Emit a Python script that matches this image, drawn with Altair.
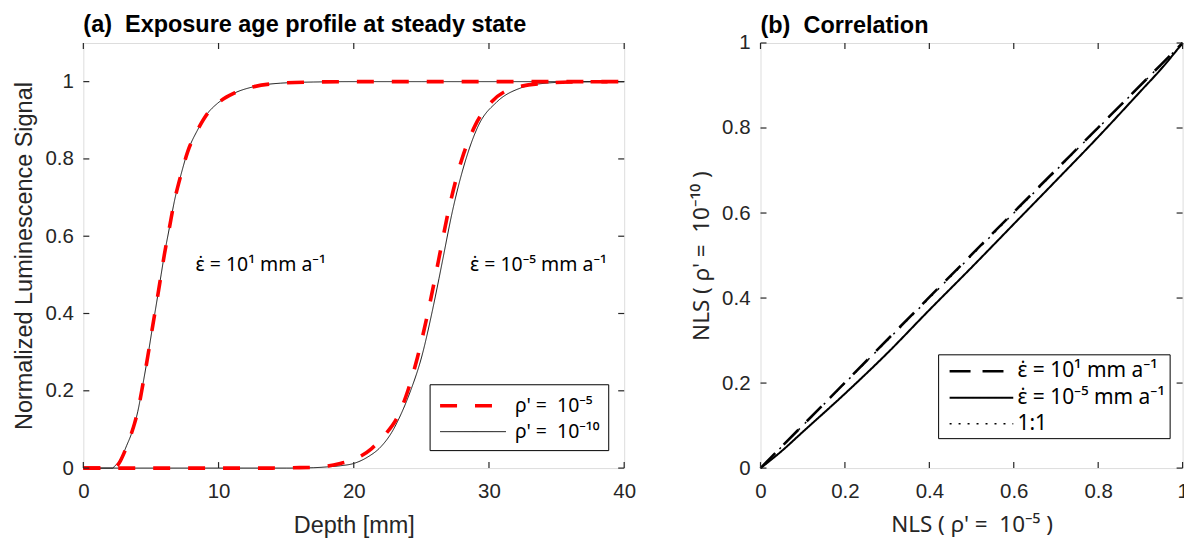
import altair as alt
import pandas as pd

FONT = "Liberation Sans"
SUPFONT = "Noto Sans"
AXC = "#262626"
NB = "\u00a0"

# ---------------- Panel (a): exposure age profiles ----------------
# eps = 10^1 mm/a, rho' = 1e-10 (thin black)
a1_blk_depth = [0, 1, 2.0, 2.19, 2.31, 2.6, 2.92, 3.2, 3.54, 3.8, 4.03, 4.4, 4.77, 5.14, 5.38, 5.75,
                5.99, 6.36, 6.73, 7.22, 7.72, 8.45, 9.19, 9.93, 11.15, 12.62, 14.59, 17, 20, 25, 30, 35, 40]
a1_blk_nls = [0, 0, 0, 0, 0.005, 0.015, 0.035, 0.058, 0.087, 0.115, 0.147, 0.216, 0.29, 0.37, 0.42, 0.5,
              0.552, 0.621, 0.69, 0.759, 0.819, 0.875, 0.918, 0.944, 0.97, 0.987, 0.996, 0.999, 1, 1, 1, 1, 1]
# eps = 10^1 mm/a, rho' = 1e-5 (red dashed)
a1_red_depth = [0, 1, 2.0, 2.3, 2.45, 2.7, 3.0, 3.25, 3.56, 3.8, 4.03, 4.4, 4.77, 5.14, 5.38, 5.75,
                5.99, 6.36, 6.73, 7.22, 7.72, 8.45, 9.19, 9.93, 11.15, 12.62, 14.59, 17, 20, 25, 30, 35, 40]
a1_red_nls = [0, 0, 0, 0, 0.004, 0.016, 0.038, 0.06, 0.09, 0.117, 0.148, 0.216, 0.29, 0.37, 0.42, 0.5,
              0.552, 0.621, 0.69, 0.759, 0.819, 0.875, 0.918, 0.944, 0.97, 0.987, 0.996, 0.999, 1, 1, 1, 1, 1]
# eps = 10^-5 mm/a, rho' = 1e-10 (thin black)
a2_blk_depth = [0, 10, 15, 17, 18, 19, 20, 21, 22, 22.8, 23.5, 24.2, 25.0, 25.8, 26.3, 26.6, 27.3,
                28.3, 29.2, 30.6, 32.3, 34.2, 36, 40]
a2_blk_nls = [0, 0, 0, 0.001, 0.003, 0.006, 0.012, 0.028, 0.055, 0.092, 0.14, 0.2, 0.285, 0.405, 0.49,
              0.543, 0.665, 0.8, 0.885, 0.948, 0.983, 0.996, 0.999, 1]
# eps = 10^-5 mm/a, rho' = 1e-5 (red dashed)
a2_red_depth = [0, 10, 14, 15.5, 17, 17.8, 19, 20, 21.3, 22.3, 23.2, 24.0, 24.7, 25.5, 26.0, 26.3, 27.0,
                28.0, 29.0, 30.2, 31.8, 34.2, 36, 40]
a2_red_nls = [0, 0, 0, 0.001, 0.002, 0.004, 0.012, 0.022, 0.05, 0.086, 0.13, 0.2, 0.285, 0.405, 0.49,
              0.543, 0.665, 0.8, 0.888, 0.948, 0.983, 0.996, 0.999, 1]

rho_labels = ["ρ' = " + NB + "10⁻⁵", "ρ' = " + NB + "10⁻¹⁰"]
a_x_ticks = [0, 10, 20, 30, 40]
a_y_ticks = [0, 0.2, 0.4, 0.6, 0.8, 1]
ann_x = [8.3, 28.6]
ann_y = [0.525, 0.525]
ann_text = ["ε̇ = 10¹ mm a⁻¹", "ε̇ = 10⁻⁵ mm a⁻¹"]

# ---------------- Panel (b): correlation ----------------
b_fast_x = [0, 0.2, 0.4, 0.6, 0.8, 1]
b_fast_y = [0, 0.201, 0.402, 0.602, 0.801, 1]
b_slow_x = [0, 0.05, 0.1, 0.2, 0.3, 0.4, 0.5, 0.6, 0.7, 0.8, 0.9, 0.95, 1]
b_slow_y = [0, 0.04, 0.085, 0.175, 0.27, 0.372, 0.472, 0.574, 0.676, 0.779, 0.886, 0.94, 1]
b_one_x = [0, 1]
b_one_y = [0, 1]
b_labels = ["ε̇ = 10¹ mm a⁻¹", "ε̇ = 10⁻⁵ mm a⁻¹", "1:1"]
b_ticks = [0, 0.2, 0.4, 0.6, 0.8, 1]

W1, W2, H = 542, 423, 426
TL = 6
SYMBOL_A = "M-1,0H5"       # long horizontal swatch, unit-scaled by Vega
SYMBOL_B = "M-0.5,0H5.3"

rows = []
for cid, rho, xs, ys in [("a1b", rho_labels[1], a1_blk_depth, a1_blk_nls),
                         ("a2b", rho_labels[1], a2_blk_depth, a2_blk_nls),
                         ("a1r", rho_labels[0], a1_red_depth, a1_red_nls),
                         ("a2r", rho_labels[0], a2_red_depth, a2_red_nls)]:
    for i, (x, y) in enumerate(zip(xs, ys)):
        rows.append({"curve": cid, "rho": rho, "x": x, "y": y, "o": i})
dfa = pd.DataFrame(rows)

rows = []
for lab, xs, ys in [(b_labels[1], b_slow_x, b_slow_y), (b_labels[0], b_fast_x, b_fast_y),
                    (b_labels[2], b_one_x, b_one_y)]:
    for i, (x, y) in enumerate(zip(xs, ys)):
        rows.append({"s": lab, "x": x, "y": y, "o": i})
dfb = pd.DataFrame(rows)


def ax(title, values, pad, tpad, tfont=FONT, tsize=23.5):
    return alt.Axis(title=title, values=values, format="~f", ticks=False, domain=False, grid=False,
                    labelFontSize=20.5, titleFontSize=tsize, labelColor=AXC, titleColor=AXC,
                    titleFontWeight="normal", labelPadding=pad, titlePadding=tpad,
                    labelFont=FONT, titleFont=tfont, labelFlush=False)


def tick_layers(xs_scale, ys_scale, xaxis, yaxis, xt, yt, w, h):
    dx = pd.DataFrame({"v": xt})
    dy = pd.DataFrame({"v": yt})
    X = alt.X("v:Q", scale=xs_scale, axis=xaxis)
    Y = alt.Y("v:Q", scale=ys_scale, axis=yaxis)
    rule = dict(color=AXC, strokeWidth=1.2)
    return [
        alt.Chart(dx).mark_rule(**rule).encode(x=X, y=alt.value(h), y2=alt.value(h - TL)),
        alt.Chart(dx).mark_rule(**rule).encode(x=X, y=alt.value(0), y2=alt.value(TL)),
        alt.Chart(dy).mark_rule(**rule).encode(y=Y, x=alt.value(0), x2=alt.value(TL)),
        alt.Chart(dy).mark_rule(**rule).encode(y=Y, x=alt.value(w), x2=alt.value(w - TL)),
    ]


# ---- panel (a)
xa_scale = alt.Scale(domain=[0, 40], nice=False, zero=False)
ya_scale = alt.Scale(domain=[0, 1.1], nice=False, zero=False)
xa_axis = ax("Depth [mm]", a_x_ticks, 13.5, 12)
ya_axis = ax("Normalized Luminescence Signal", a_y_ticks, 10, 8.5)

leg_a = alt.Legend(title=None, orient="none", legendX=347, legendY=342, fillColor="white",
                   strokeColor="black", padding=8.5, rowPadding=4.5, symbolType=SYMBOL_A,
                   symbolSize=484, labelFontSize=19.5, labelFont=SUPFONT, labelColor="black",
                   labelOffset=51, labelLimit=0, cornerRadius=0)

lines_a = alt.Chart(dfa).mark_line(interpolate="monotone", strokeCap="butt").encode(
    x=alt.X("x:Q", scale=xa_scale, axis=xa_axis),
    y=alt.Y("y:Q", scale=ya_scale, axis=ya_axis),
    detail="curve:N",
    order="o:Q",
    color=alt.Color("rho:N", scale=alt.Scale(domain=rho_labels, range=["#ff0000", "#000000"]), legend=leg_a),
    strokeDash=alt.StrokeDash("rho:N", scale=alt.Scale(domain=rho_labels, range=[[17, 18], [1, 0]]), legend=leg_a),
    strokeWidth=alt.StrokeWidth("rho:N", scale=alt.Scale(domain=rho_labels, range=[3.6, 0.9]), legend=leg_a),
)

ann = alt.Chart(pd.DataFrame({"x": ann_x, "y": ann_y, "t": ann_text})).mark_text(
    align="left", baseline="middle", fontSize=19.5, font=SUPFONT, color="black").encode(
    x=alt.X("x:Q", scale=xa_scale, axis=xa_axis),
    y=alt.Y("y:Q", scale=ya_scale, axis=ya_axis),
    text="t:N")

panel_a = alt.layer(lines_a, ann, *tick_layers(xa_scale, ya_scale, xa_axis, ya_axis,
                                                a_x_ticks, a_y_ticks, W1, H)).properties(
    width=W1, height=H,
    title=alt.TitleParams("(a)" + NB + " Exposure age profile at steady state", anchor="start", frame="group",
                          fontSize=23.5, font=FONT, fontWeight="bold", color="black", offset=6))

# ---- panel (b)
xb_scale = alt.Scale(domain=[0, 1], nice=False, zero=False)
yb_scale = alt.Scale(domain=[0, 1], nice=False, zero=False)
xb_axis = ax("NLS ( ρ' = " + NB + "10⁻⁵ )", b_ticks, 13.5, 12, SUPFONT, 22.5)
yb_axis = ax("NLS ( ρ' = " + NB + "10⁻¹⁰ )", b_ticks, 10.5, 8.5, SUPFONT, 22.5)

leg_b = alt.Legend(title=None, orient="none", legendX=178, legendY=312, fillColor="white",
                   strokeColor="black", padding=4.5, rowPadding=3.5, symbolType=SYMBOL_B,
                   symbolSize=484, labelFontSize=21, labelFont=SUPFONT, labelColor="black",
                   labelOffset=50, labelLimit=0, cornerRadius=0)

lines_b = alt.Chart(dfb).mark_line(interpolate="monotone", strokeCap="butt", color="black").encode(
    x=alt.X("x:Q", scale=xb_scale, axis=xb_axis),
    y=alt.Y("y:Q", scale=yb_scale, axis=yb_axis),
    order="o:Q",
    detail="s:N",
    strokeDash=alt.StrokeDash("s:N", scale=alt.Scale(domain=b_labels, range=[[21, 12], [1, 0], [2, 7]]), legend=leg_b),
    strokeWidth=alt.StrokeWidth("s:N", scale=alt.Scale(domain=b_labels, range=[2.6, 1.5, 2.0]), legend=leg_b),
)

panel_b = alt.layer(lines_b, *tick_layers(xb_scale, yb_scale, xb_axis, yb_axis,
                                          b_ticks, b_ticks, W2, H)).properties(
    width=W2, height=H,
    title=alt.TitleParams("(b)" + NB + " Correlation", anchor="start", frame="group",
                          fontSize=23.5, font=FONT, fontWeight="bold", color="black", offset=-4.25))

chart = alt.hconcat(panel_a, panel_b, spacing=53.6).resolve_scale(
    color="independent", strokeDash="independent", strokeWidth="independent"
).resolve_legend(
    color="independent", strokeDash="independent", strokeWidth="independent"
).properties(
    padding={"left": 3.5, "top": 3.5, "right": -5, "bottom": 0}
).configure_view(stroke=AXC, strokeWidth=1.3).configure(font=FONT)

chart.save("out.html", embed_options={"renderer": "svg", "actions": False})
